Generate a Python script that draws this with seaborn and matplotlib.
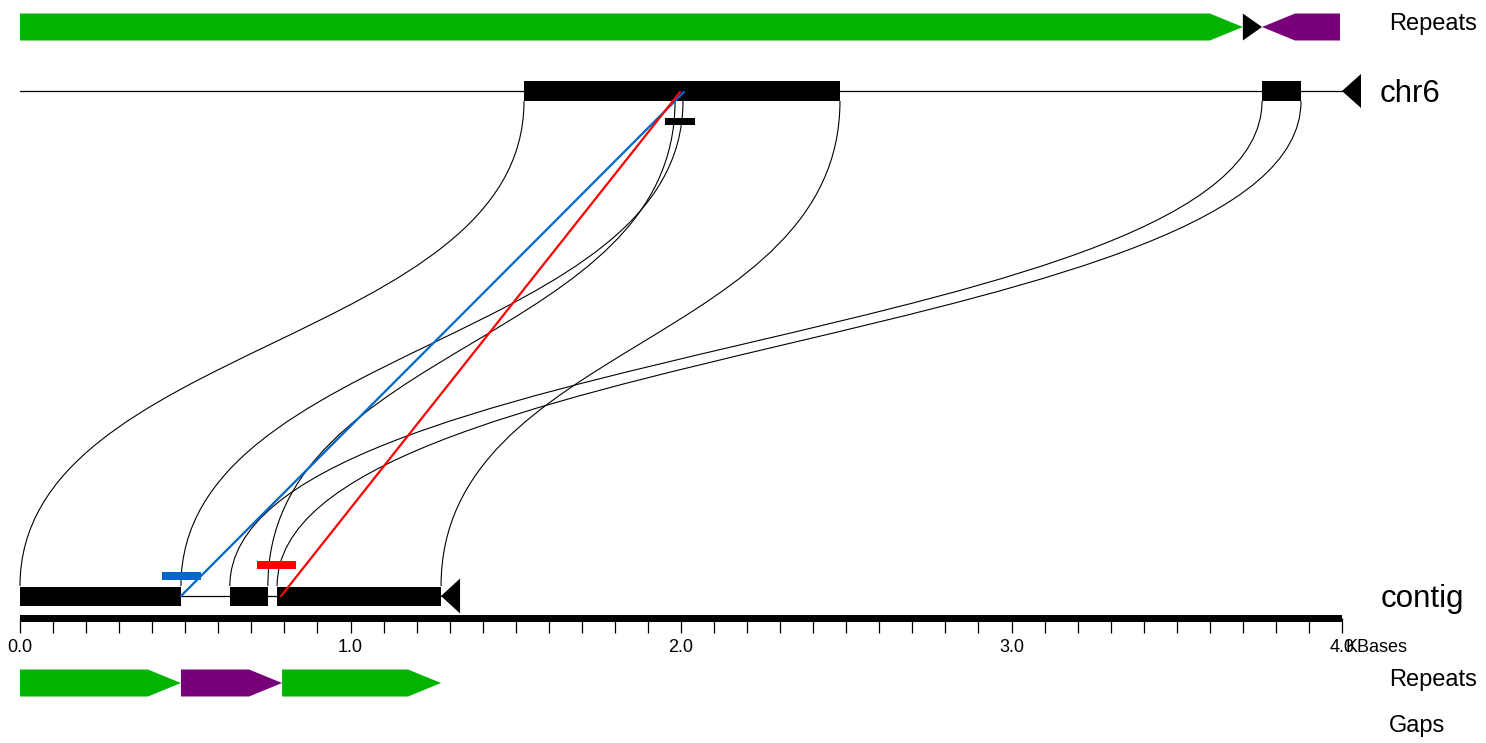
import numpy as np
import pandas as pd
import matplotlib
matplotlib.use("Agg")
import matplotlib.pyplot as plt
from matplotlib.patches import Rectangle, Polygon, PathPatch
from matplotlib.path import Path
import seaborn as sns

# ---- data (positions in kb) ----
chr6_length = 4.0
contig_length = 1.274

chr6_block_start = [1.525, 3.758]
chr6_block_end = [2.481, 3.876]
contig_block_start = [0.0, 0.635, 0.778]
contig_block_end = [0.487, 0.750, 1.274]

# alignment boundaries joined by curves
link_contig = [0.0, 0.487, 0.635, 0.750, 0.778, 1.274]
link_chr6 = [1.525, 2.006, 3.758, 1.982, 3.876, 2.481]

top_repeat_start = [0.0, 3.700, 3.758]
top_repeat_end = [3.700, 3.758, 3.994]
top_repeat_strand = [1, 1, -1]
top_repeat_color = ["#00b400", "#000000", "#780078"]

bottom_repeat_start = [0.0, 0.487, 0.793]
bottom_repeat_end = [0.487, 0.793, 1.274]
bottom_repeat_strand = [1, 1, 1]
bottom_repeat_color = ["#00b400", "#780078", "#00b400"]

# breakpoints
bp_name = ["blue", "red"]
bp_color = ["#0066cc", "#ff0000"]
bp_contig = [0.487, 0.790]
bp_chr6 = [2.009, 1.997]
bp_marker_center = [0.49, 0.776]
bp_marker_width = 0.118
chr6_marker_center = 1.997
chr6_marker_width = 0.09

tick_labels = ["0.0", "1.0", "2.0", "3.0", "4.0"]

# ---- layout (pixel rows) ----
Y_TOP_REP = 27
Y_CHR6 = 91
Y_CONTIG = 596
Y_RULER = 618
Y_BOT_REP = 683
PX_PER_KB = 330.5
HEAD = 0.1

sns.set_theme(style="white")
plt.rcParams["font.family"] = ["Liberation Sans", "DejaVu Sans"]

fig = plt.figure(figsize=(14.86, 7.43), dpi=100)
ax = fig.add_axes([0, 0, 1, 1])


def repeat_arrow(s, e, strand, yc, h=27, color="k"):
    hl = min(HEAD, e - s)
    y0, y1 = yc - h / 2, yc + h / 2
    if strand > 0:
        pts = [(s, y0), (e - hl, y0), (e, yc), (e - hl, y1), (s, y1)]
    else:
        pts = [(e, y0), (s + hl, y0), (s, yc), (s + hl, y1), (e, y1)]
    ax.add_patch(Polygon(pts, closed=True, facecolor=color, edgecolor="none", zorder=3))


for s, e, st, c in zip(top_repeat_start, top_repeat_end, top_repeat_strand, top_repeat_color):
    repeat_arrow(s, e, st, Y_TOP_REP, color=c)
for s, e, st, c in zip(bottom_repeat_start, bottom_repeat_end, bottom_repeat_strand, bottom_repeat_color):
    repeat_arrow(s, e, st, Y_BOT_REP, color=c)

# curves between alignment ends
y_a, y_b = Y_CONTIG - 10, Y_CHR6 + 10
ym = (y_a + y_b) / 2
for xc, xh in zip(link_contig, link_chr6):
    path = Path([(xc, y_a), (xc, ym), (xh, ym), (xh, y_b)],
                [Path.MOVETO, Path.CURVE4, Path.CURVE4, Path.CURVE4])
    ax.add_patch(PathPatch(path, facecolor="none", edgecolor="black", lw=0.8, zorder=1))

# sequence tracks
ax.plot([0, chr6_length], [Y_CHR6, Y_CHR6], color="black", lw=0.9, zorder=2)
ax.plot([0, contig_length], [Y_CONTIG, Y_CONTIG], color="black", lw=0.9, zorder=2)
for s, e in zip(chr6_block_start, chr6_block_end):
    ax.add_patch(Rectangle((s, Y_CHR6 - 10), e - s, 20, facecolor="black", edgecolor="none", zorder=3))
for s, e in zip(contig_block_start, contig_block_end):
    ax.add_patch(Rectangle((s, Y_CONTIG - 9.5), e - s, 19, facecolor="black", edgecolor="none", zorder=3))

tri_w = 19 / PX_PER_KB
ax.add_patch(Polygon([(chr6_length, Y_CHR6), (chr6_length + tri_w, Y_CHR6 - 17),
                      (chr6_length + tri_w, Y_CHR6 + 17)], facecolor="black", edgecolor="none", zorder=3))
ax.add_patch(Polygon([(contig_length, Y_CONTIG), (contig_length + tri_w, Y_CONTIG - 17.5),
                      (contig_length + tri_w, Y_CONTIG + 17.5)], facecolor="black", edgecolor="none", zorder=3))

# breakpoint markers
marker_y = [576, 565]
for c, xc, my in zip(bp_color, bp_marker_center, marker_y):
    ax.add_patch(Rectangle((xc - bp_marker_width / 2, my - 4), bp_marker_width, 7.5,
                           facecolor=c, edgecolor="none", zorder=4))
ax.add_patch(Rectangle((chr6_marker_center - chr6_marker_width / 2, 118), chr6_marker_width, 6.5,
                       facecolor="black", edgecolor="none", zorder=4))

# breakpoint lines
lines = pd.DataFrame({
    "x": [v for pair in zip(bp_contig, bp_chr6) for v in pair],
    "y": [Y_CONTIG, Y_CHR6 + 1] * len(bp_name),
    "bp": [n for n in bp_name for _ in range(2)],
})
sns.lineplot(data=lines, x="x", y="y", hue="bp", palette=dict(zip(bp_name, bp_color)),
             sort=False, legend=False, lw=1.6, ax=ax, zorder=5)

ax.set_xlim(-20 / PX_PER_KB, 1466 / PX_PER_KB)
ax.set_ylim(743, 0)
ax.axis("off")

# ruler
ax.add_patch(Rectangle((0, Y_RULER - 3), chr6_length, 6.5, facecolor="black", edgecolor="none", zorder=3))
ticks = np.round(np.arange(0, chr6_length + 0.001, 0.1), 1)
ax.vlines(ticks, Y_RULER, Y_RULER + 15, color="black", lw=0.9, zorder=3)
for i, lab in enumerate(tick_labels):
    ax.text(float(i), 652, lab, ha="center", va="baseline", fontsize=13, color="black")
# the reference draws the unit right against the last tick label
ax.text(chr6_length + 3 / PX_PER_KB, 652, "KBases", ha="left", va="baseline", fontsize=13, color="black")

# track labels
def px(x):
    return (x - 20) / PX_PER_KB

ax.text(px(1389), 30, "Repeats", ha="left", va="baseline", fontsize=17, color="black")
ax.text(px(1380), 102, "chr6", ha="left", va="baseline", fontsize=22.5, color="black")
ax.text(px(1381), 607, "contig", ha="left", va="baseline", fontsize=22.5, color="black")
ax.text(px(1389), 686, "Repeats", ha="left", va="baseline", fontsize=17, color="black")
ax.text(px(1389), 732, "Gaps", ha="left", va="baseline", fontsize=17, color="black")

fig.savefig("out.png", dpi=100, facecolor="white")
